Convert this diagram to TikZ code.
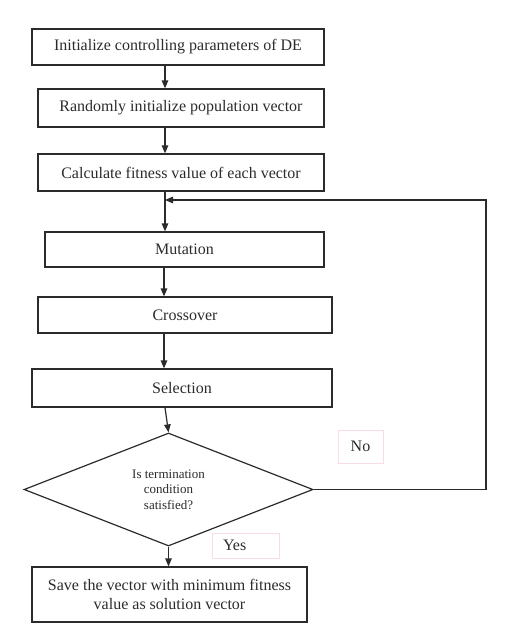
\documentclass[tikz,border=0pt]{standalone}
\usepackage{fontspec}
\setmainfont{Liberation Serif}
\usetikzlibrary{arrows.meta,shapes.geometric}
\definecolor{ink}{HTML}{2B2B2B}
\definecolor{softpink}{HTML}{F8DDE3}
\begin{document}
\begin{tikzpicture}[x=1pt,y=-1pt,
  proc/.style={draw=ink, line width=1.2pt, rectangle, inner sep=2pt, align=center,
    font=\fontsize{16}{18.5}\selectfont, text=ink},
  decide/.style={draw=ink, line width=1.2pt, diamond, inner sep=0pt, align=center,
    font=\fontsize{13}{15.7}\selectfont, text=ink},
  tag/.style={draw=softpink, line width=0.8pt, rectangle, font=\fontsize{16}{18.5}\selectfont, text=ink},
  flow/.style={draw=ink, line width=1.2pt, -{Triangle[length=8pt,width=6.5pt]}},
  link/.style={draw=ink, line width=1.2pt}]
  \useasboundingbox (0,0) rectangle (505,637);

  \node[proc, minimum width=292pt, minimum height=36pt] (init) at (178,47) {Initialize controlling parameters of DE};
  \node[proc, minimum width=286pt, minimum height=38pt] (rand) at (181,108) {Randomly initialize population vector};
  \node[proc, minimum width=286pt, minimum height=37pt] (fit) at (181,172.5) {Calculate fitness value of each vector};
  \node[proc, minimum width=279pt, minimum height=35pt] (mut) at (184.5,249.5) {Mutation};
  \node[proc, minimum width=294pt, minimum height=36pt] (cross) at (185,315) {Crossover};
  \node[proc, minimum width=300pt, minimum height=38pt] (sel) at (182,388) {Selection};
  \node[decide, minimum width=289pt, minimum height=113pt] (term) at (168.5,489.5)
    {Is termination\\condition\\satisfied?};
  \node[proc, minimum width=275pt, minimum height=55pt] (save) at (169.5,594.5)
    {Save the vector with minimum fitness\\value as solution vector};

  \node[tag, minimum width=45pt, minimum height=33pt, inner sep=0pt] (no) at (360.5,446.5) {No};
  \node[tag, minimum width=67pt, minimum height=25pt, text width=45pt, inner xsep=11pt, inner ysep=0pt, align=left] (yes) at (245.5,545.5) {Yes};

  \coordinate (join) at (165,200);
  \coordinate (back) at (486,200);
  \coordinate (turn) at (486,489.5);

  \draw[flow] (init.south -| join) -- (rand.north -| join);
  \draw[flow] (rand.south -| join) -- (fit.north -| join);
  \draw[link] (fit.south -| join) -- (join);
  \draw[flow] (join) -- (mut.north -| join);
  \draw[flow] (mut.south -| 164,0) -- (cross.north -| 164,0);
  \draw[flow] (cross.south -| 164,0) -- (sel.north -| 164,0);
  \draw[flow] (sel.south -| 165,0) -- (term.north);
  \draw[flow] (term.south) -- (save.north -| term.south);
  \draw[flow] (term.east) -- (turn) -- (back) -- (join);
\end{tikzpicture}
\end{document}
